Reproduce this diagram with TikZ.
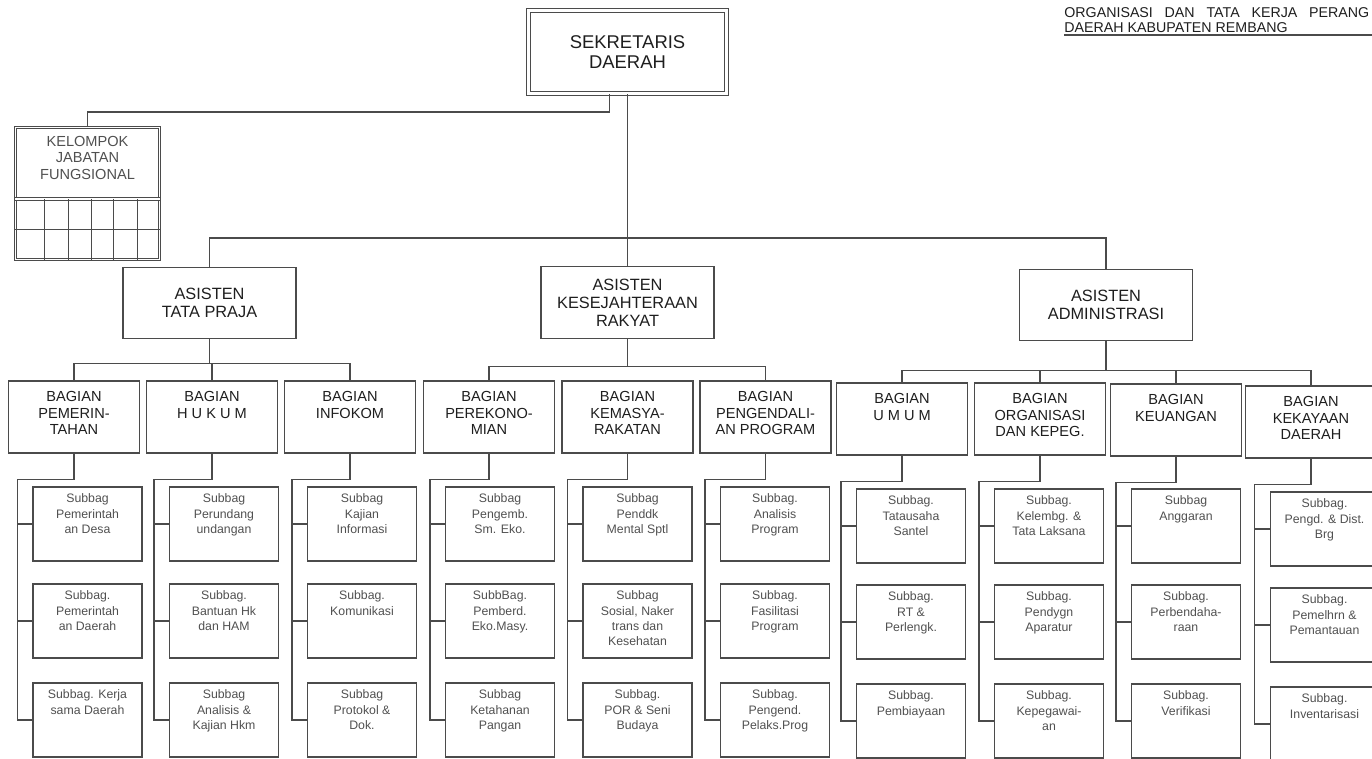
\documentclass[tikz,border=0pt]{standalone}
\usepackage{fontspec}
\setmainfont{Liberation Sans}
\usepackage{tikz}
\usetikzlibrary{positioning}
\usepackage{xcolor}
\definecolor{linegray}{RGB}{75, 75, 75}
\definecolor{textdark}{RGB}{30, 30, 30}
\definecolor{textgray}{RGB}{80, 80, 80}

\begin{document}
\begin{tikzpicture}[x=0.02cm, y=-0.02cm,
        % Node styles (coordinates are in pixels of the scanned chart)
        sekda/.style={draw=linegray, double, double distance=1.6pt, line width=0.6pt, minimum width=3.96cm, minimum height=1.66cm, align=center, text=textdark, font=\fontsize{10.5}{11.6}\selectfont},
        kelompok/.style={draw=linegray, double, double distance=1.1pt, line width=0.5pt, minimum width=2.88cm, minimum height=2.64cm, inner sep=0pt, text=textgray, font=\fontsize{8.3}{9.4}\selectfont,
            execute at begin node={\begin{minipage}[c][2.3cm][t]{2.7cm}\centering}, execute at end node={\end{minipage}}},
        asisten/.style={draw=linegray, line width=0.6pt, minimum width=3.46cm, minimum height=1.43cm, align=center, text=textdark, font=\fontsize{9.3}{10.3}\selectfont},
        bagian/.style={draw=linegray, line width=0.6pt, minimum width=2.62cm, minimum height=1.44cm, inner sep=0pt, text=textdark, font=\fontsize{8.3}{9.6}\selectfont,
            execute at begin node={\begin{minipage}[c][1.04cm][t]{2.55cm}\centering}, execute at end node={\end{minipage}}},
        subbag/.style={draw=linegray, line width=0.6pt, minimum width=2.18cm, minimum height=1.48cm, inner sep=0pt, text=textgray, font=\fontsize{7}{8.7}\selectfont,
            execute at begin node={\begin{minipage}[c][1.2cm][t]{2.1cm}\centering}, execute at end node={\end{minipage}}},
        judul/.style={align=left, inner sep=0pt, text=textdark, font=\fontsize{8.1}{8.6}\selectfont},
        link/.style={draw=linegray, line width=0.6pt}
    ]
    \useasboundingbox (0,0) rectangle (1372,759);

    % Title in the corner
    \node[judul, anchor=north west] (judul) at (1064, 7) {\makebox[6.1cm][s]{ORGANISASI DAN TATA KERJA PERANG}\\DAERAH KABUPATEN REMBANG};
    \coordinate (garis) at (1372, 35);
    \draw[link] (judul.south west |- garis) -- (garis);

    % Top: sekretaris and kelompok jabatan fungsional
    \node[sekda] (sekda) at (627.5, 52) {SEKRETARIS\\DAERAH};
    \node[kelompok] (kjf) at (87.5, 193.5) {KELOMPOK\\JABATAN\\FUNGSIONAL};
    \draw[link, double, double distance=0.8pt, line width=0.5pt] (15, 199) -- (160, 199);
    \draw[link, line width=0.5pt] (15, 229) -- (160, 229);
    \draw[link, line width=0.5pt] (44, 199) -- (44, 261) (68, 199) -- (68, 261) (91, 199) -- (91, 261) (113, 199) -- (113, 261) (137, 199) -- (137, 261);

    % Asisten
    \node[asisten] (tp) at (209.5, 303) {ASISTEN\\TATA PRAJA};
    \node[asisten] (kes) at (627.5, 302.5) {ASISTEN\\KESEJAHTERAAN\\RAKYAT};
    \node[asisten] (adm) at (1106, 305) {ASISTEN\\ADMINISTRASI};

    % Bagian
    \node[bagian] (pem) at (74, 417) {BAGIAN\\PEMERIN-\\TAHAN};
    \node[bagian] (huk) at (212, 417) {BAGIAN\\H U K U M};
    \node[bagian] (inf) at (350, 417) {BAGIAN\\INFOKOM};
    \node[bagian] (per) at (489, 417) {BAGIAN\\PEREKONO-\\MIAN};
    \node[bagian] (kms) at (627.5, 417) {BAGIAN\\KEMASYA-\\RAKATAN};
    \node[bagian] (pgd) at (765.5, 417) {BAGIAN\\PENGENDALI-\\AN PROGRAM};
    \node[bagian] (umm) at (902, 419) {BAGIAN\\U M U M};
    \node[bagian] (org) at (1040, 419) {BAGIAN\\ORGANISASI\\DAN KEPEG.};
    \node[bagian] (keu) at (1176, 420) {BAGIAN\\KEUANGAN};
    \node[bagian] (kek) at (1311, 422) {BAGIAN\\KEKAYAAN\\DAERAH};

    % Subbag under Asisten Tata Praja
    \node[subbag] (pem1) at (87.5, 524) {Subbag\\Pemerintah\\an Desa};
    \node[subbag] (pem2) at (87.5, 621) {Subbag.\\Pemerintah\\an Daerah};
    \node[subbag] (pem3) at (87.5, 720) {Subbag. Kerja\\sama Daerah};
    \node[subbag] (huk1) at (224, 524) {Subbag\\Perundang\\undangan};
    \node[subbag] (huk2) at (224, 621) {Subbag.\\Bantuan Hk\\dan HAM};
    \node[subbag] (huk3) at (224, 720) {Subbag\\Analisis \&\\Kajian Hkm};
    \node[subbag] (inf1) at (362, 524) {Subbag\\Kajian\\Informasi};
    \node[subbag] (inf2) at (362, 621) {Subbag.\\Komunikasi};
    \node[subbag] (inf3) at (362, 720) {Subbag\\Protokol \&\\Dok.};

    % Subbag under Asisten Kesejahteraan Rakyat
    \node[subbag] (per1) at (500, 524) {Subbag\\Pengemb.\\Sm. Eko.};
    \node[subbag] (per2) at (500, 621) {SubbBag.\\Pemberd.\\Eko.Masy.};
    \node[subbag] (per3) at (500, 720) {Subbag\\Ketahanan\\Pangan};
    \node[subbag] (kms1) at (637.5, 524) {Subbag\\Penddk\\Mental Sptl};
    \node[subbag] (kms2) at (637.5, 621) {Subbag\\Sosial, Naker\\trans dan\\Kesehatan};
    \node[subbag] (kms3) at (637.5, 720) {Subbag.\\POR \& Seni\\Budaya};
    \node[subbag] (pgd1) at (775, 524) {Subbag.\\Analisis\\Program};
    \node[subbag] (pgd2) at (775, 621) {Subbag.\\Fasilitasi\\Program};
    \node[subbag] (pgd3) at (775, 720) {Subbag.\\Pengend.\\Pelaks.Prog};

    % Subbag under Asisten Administrasi
    \node[subbag] (umm1) at (911, 526) {Subbag.\\Tatausaha\\Santel};
    \node[subbag] (umm2) at (911, 622) {Subbag.\\RT \&\\Perlengk.};
    \node[subbag] (umm3) at (911, 721) {Subbag.\\Pembiayaan};
    \node[subbag] (org1) at (1049, 526) {Subbag.\\Kelembg. \&\\Tata Laksana};
    \node[subbag] (org2) at (1049, 622) {Subbag.\\Pendygn\\Aparatur};
    \node[subbag] (org3) at (1049, 721) {Subbag.\\Kepegawai-\\an};
    \node[subbag] (keu1) at (1186, 526) {Subbag\\Anggaran};
    \node[subbag] (keu2) at (1186, 622) {Subbag.\\Perbendaha-\\raan};
    \node[subbag] (keu3) at (1186, 721) {Subbag.\\Verifikasi};
    \node[subbag] (kek1) at (1324.5, 529) {Subbag.\\Pengd. \& Dist.\\Brg};
    \node[subbag] (kek2) at (1324.5, 625) {Subbag.\\Pemelhrn \&\\Pemantauan};
    \node[subbag] (kek3) at (1324.5, 724) {Subbag.\\Inventarisasi};

    % Sekretaris to kelompok and asisten
    \draw[link] ([xshift=-0.36cm]sekda.south) -- ++(0, 18) -| (kjf.north);
    \draw[link] (sekda.south) -- (kes.north);
    \coordinate (trunk) at (627.5, 238);
    \draw[link] (tp.north) |- (trunk) -| (adm.north);

    % Asisten to bagian
    \draw[link] (tp.south) -- ++(0, 24) coordinate (tpbar);
    \draw[link] (pem.north) |- (tpbar) -| (inf.north);
    \draw[link] (huk.north) -- (huk.north |- tpbar);
    \draw[link] (kes.south) -- ++(0, 28) coordinate (kesbar);
    \draw[link] (per.north) |- (kesbar) -| (pgd.north);
    \draw[link] (adm.south) -- ++(0, 29) coordinate (admbar);
    \draw[link] (umm.north) |- (admbar) -| (kek.north);
    \draw[link] (org.north) -- (org.north |- admbar);
    \draw[link] (keu.north) -- (keu.north |- admbar);

    % Bagian to subbag
    \draw[link] (pem.south) -- ++(0, 26) -| ([xshift=-0.3cm]pem3.west) -- (pem3.west) ([xshift=-0.3cm]pem1.west) -- (pem1.west) ([xshift=-0.3cm]pem2.west) -- (pem2.west);
    \draw[link] (huk.south) -- ++(0, 26) -| ([xshift=-0.3cm]huk3.west) -- (huk3.west) ([xshift=-0.3cm]huk1.west) -- (huk1.west) ([xshift=-0.3cm]huk2.west) -- (huk2.west);
    \draw[link] (inf.south) -- ++(0, 26) -| ([xshift=-0.3cm]inf3.west) -- (inf3.west) ([xshift=-0.3cm]inf1.west) -- (inf1.west) ([xshift=-0.3cm]inf2.west) -- (inf2.west);
    \draw[link] (per.south) -- ++(0, 26) -| ([xshift=-0.3cm]per3.west) -- (per3.west) ([xshift=-0.3cm]per1.west) -- (per1.west) ([xshift=-0.3cm]per2.west) -- (per2.west);
    \draw[link] (kms.south) -- ++(0, 26) -| ([xshift=-0.3cm]kms3.west) -- (kms3.west) ([xshift=-0.3cm]kms1.west) -- (kms1.west) ([xshift=-0.3cm]kms2.west) -- (kms2.west);
    \draw[link] (pgd.south) -- ++(0, 26) -| ([xshift=-0.3cm]pgd3.west) -- (pgd3.west) ([xshift=-0.3cm]pgd1.west) -- (pgd1.west) ([xshift=-0.3cm]pgd2.west) -- (pgd2.west);
    \draw[link] (umm.south) -- ++(0, 26) -| ([xshift=-0.3cm]umm3.west) -- (umm3.west) ([xshift=-0.3cm]umm1.west) -- (umm1.west) ([xshift=-0.3cm]umm2.west) -- (umm2.west);
    \draw[link] (org.south) -- ++(0, 26) -| ([xshift=-0.3cm]org3.west) -- (org3.west) ([xshift=-0.3cm]org1.west) -- (org1.west) ([xshift=-0.3cm]org2.west) -- (org2.west);
    \draw[link] (keu.south) -- ++(0, 26) -| ([xshift=-0.3cm]keu3.west) -- (keu3.west) ([xshift=-0.3cm]keu1.west) -- (keu1.west) ([xshift=-0.3cm]keu2.west) -- (keu2.west);
    \draw[link] (kek.south) -- ++(0, 26) -| ([xshift=-0.3cm]kek3.west) -- (kek3.west) ([xshift=-0.3cm]kek1.west) -- (kek1.west) ([xshift=-0.3cm]kek2.west) -- (kek2.west);

\end{tikzpicture}
\end{document}
